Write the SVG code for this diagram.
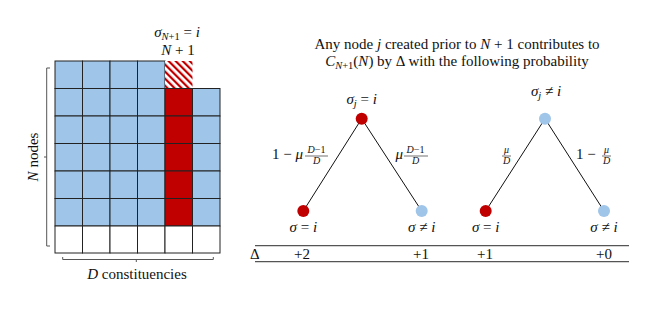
<svg xmlns="http://www.w3.org/2000/svg" width="664" height="309" viewBox="0 0 664 309">
<style>
text{font-family:"Liberation Serif","DejaVu Serif",serif;font-size:15px;fill:#111}
.it{font-style:italic}
.sm{font-size:10.5px}
.xs{font-size:10px}
.b{fill:#9fc5e8;stroke:#222;stroke-width:1}
.r{fill:#c00000;stroke:#222;stroke-width:1}
.w{fill:#fff;stroke:#222;stroke-width:1}
.br{fill:none;stroke:#555;stroke-width:1}
.edge{stroke:#111;stroke-width:1;fill:none}
.rule{stroke:#555;stroke-width:1.2}
.fb{stroke:#111;stroke-width:0.6}
.nr{fill:#c00000}
.nb{fill:#9fc5e8}
</style>
<defs>
<pattern id="hatch" patternUnits="userSpaceOnUse" width="5" height="5" patternTransform="rotate(-45)">
<rect width="5" height="5" fill="#fff"/>
<rect x="0" y="0" width="2.2" height="5" fill="#c00000"/>
</pattern>
</defs>
<g id="grid">
<rect class="b" x="55" y="61" width="27.5" height="27.5"/>
<rect class="b" x="82.5" y="61" width="27.5" height="27.5"/>
<rect class="b" x="110" y="61" width="27.5" height="27.5"/>
<rect class="b" x="137.5" y="61" width="27.5" height="27.5"/>
<rect x="165" y="61" width="27.5" height="27.5" fill="url(#hatch)" stroke="none"/>
<g>
<rect class="b" x="55" y="88.5" width="27.5" height="27.5"/><rect class="b" x="82.5" y="88.5" width="27.5" height="27.5"/><rect class="b" x="110" y="88.5" width="27.5" height="27.5"/><rect class="b" x="137.5" y="88.5" width="27.5" height="27.5"/><rect class="r" x="165" y="88.5" width="27.5" height="27.5"/><rect class="b" x="192.5" y="88.5" width="27.5" height="27.5"/>
<rect class="b" x="55" y="116" width="27.5" height="27.5"/><rect class="b" x="82.5" y="116" width="27.5" height="27.5"/><rect class="b" x="110" y="116" width="27.5" height="27.5"/><rect class="b" x="137.5" y="116" width="27.5" height="27.5"/><rect class="r" x="165" y="116" width="27.5" height="27.5"/><rect class="b" x="192.5" y="116" width="27.5" height="27.5"/>
<rect class="b" x="55" y="143.5" width="27.5" height="27.5"/><rect class="b" x="82.5" y="143.5" width="27.5" height="27.5"/><rect class="b" x="110" y="143.5" width="27.5" height="27.5"/><rect class="b" x="137.5" y="143.5" width="27.5" height="27.5"/><rect class="r" x="165" y="143.5" width="27.5" height="27.5"/><rect class="b" x="192.5" y="143.5" width="27.5" height="27.5"/>
<rect class="b" x="55" y="171" width="27.5" height="27.5"/><rect class="b" x="82.5" y="171" width="27.5" height="27.5"/><rect class="b" x="110" y="171" width="27.5" height="27.5"/><rect class="b" x="137.5" y="171" width="27.5" height="27.5"/><rect class="r" x="165" y="171" width="27.5" height="27.5"/><rect class="b" x="192.5" y="171" width="27.5" height="27.5"/>
<rect class="b" x="55" y="198.5" width="27.5" height="27.5"/><rect class="b" x="82.5" y="198.5" width="27.5" height="27.5"/><rect class="b" x="110" y="198.5" width="27.5" height="27.5"/><rect class="b" x="137.5" y="198.5" width="27.5" height="27.5"/><rect class="r" x="165" y="198.5" width="27.5" height="27.5"/><rect class="b" x="192.5" y="198.5" width="27.5" height="27.5"/>
</g>
<rect class="w" x="55" y="226" width="27.5" height="27"/><rect class="w" x="82.5" y="226" width="27.5" height="27"/><rect class="w" x="110" y="226" width="27.5" height="27"/><rect class="w" x="137.5" y="226" width="27.5" height="27"/><rect class="w" x="165" y="226" width="27.5" height="27"/><rect class="w" x="192.5" y="226" width="27.5" height="27"/>
<path class="br" d="M50 68 H46.7 V246 H50 M46.7 157 H44"/>
<path class="br" d="M62.7 257 V259.5 H213.3 V257 M136.3 259.5 V262"/>
<text x="177" y="37" text-anchor="middle"><tspan class="it">σ</tspan><tspan class="it sm" dy="3">N</tspan><tspan class="sm">+1</tspan><tspan dy="-3"> = </tspan><tspan class="it">i</tspan></text>
<text x="178" y="55" text-anchor="middle"><tspan class="it">N</tspan> + 1</text>
<text transform="translate(38 157) rotate(-90)" text-anchor="middle"><tspan class="it">N</tspan> nodes</text>
<text x="137" y="279" text-anchor="middle"><tspan class="it">D</tspan> constituencies</text>
</g>
<g id="title">
<text x="457" y="49" text-anchor="middle">Any node <tspan class="it">j</tspan> created prior to <tspan class="it">N</tspan> + 1 contributes to</text>
<text x="457" y="66" text-anchor="middle"><tspan class="it">C</tspan><tspan class="it sm" dy="3">N</tspan><tspan class="sm">+1</tspan><tspan dy="-3">(</tspan><tspan class="it">N</tspan>) by Δ with the following probability</text>
</g>
<g id="connectors">
<line class="edge" x1="361.7" y1="118.7" x2="303.3" y2="211"/>
<line class="edge" x1="361.7" y1="118.7" x2="421.7" y2="211"/>
<line class="edge" x1="545" y1="118.7" x2="485.7" y2="211"/>
<line class="edge" x1="545" y1="118.7" x2="604" y2="211"/>
</g>
<g id="edge-labels">
<text x="272" y="159"><tspan>1 − </tspan><tspan class="it">μ</tspan></text>
<text x="316.5" y="153" text-anchor="middle" class="xs"><tspan class="it">D</tspan>−1</text>
<line class="fb" x1="305" y1="156" x2="328" y2="156"/>
<text x="316.5" y="164" text-anchor="middle" class="xs it">D</text>
<text x="395.5" y="159" class="it">μ</text>
<text x="415.5" y="153" text-anchor="middle" class="xs"><tspan class="it">D</tspan>−1</text>
<line class="fb" x1="404" y1="156" x2="428" y2="156"/>
<text x="415.5" y="164" text-anchor="middle" class="xs it">D</text>
<text x="506.5" y="153" text-anchor="middle" class="xs it">μ</text>
<line class="fb" x1="502" y1="156" x2="511" y2="156"/>
<text x="506.5" y="164" text-anchor="middle" class="xs it">D</text>
<text x="576" y="159">1 − </text>
<text x="606.5" y="153" text-anchor="middle" class="xs it">μ</text>
<line class="fb" x1="602" y1="156" x2="611" y2="156"/>
<text x="606.5" y="164" text-anchor="middle" class="xs it">D</text>
</g>
<g id="n-top1">
<circle class="nr" cx="361.7" cy="118.7" r="6"/>
<text x="361.7" y="104" text-anchor="middle"><tspan class="it">σ</tspan><tspan class="it sm" dy="3">j</tspan><tspan dy="-3"> = </tspan><tspan class="it">i</tspan></text>
</g>
<g id="n-l1">
<circle class="nr" cx="303.3" cy="211" r="6"/>
<text x="303.3" y="232" text-anchor="middle"><tspan class="it">σ</tspan> = <tspan class="it">i</tspan></text>
</g>
<g id="n-r1">
<circle class="nb" cx="421.7" cy="211" r="6"/>
<text x="421.7" y="232" text-anchor="middle"><tspan class="it">σ</tspan> ≠ <tspan class="it">i</tspan></text>
</g>
<g id="n-top2">
<circle class="nb" cx="545" cy="118.7" r="6"/>
<text x="546" y="96" text-anchor="middle"><tspan class="it">σ</tspan><tspan class="it sm" dy="3">j</tspan><tspan dy="-3"> ≠ </tspan><tspan class="it">i</tspan></text>
</g>
<g id="n-l2">
<circle class="nr" cx="485.7" cy="211" r="6"/>
<text x="485.7" y="232" text-anchor="middle"><tspan class="it">σ</tspan> = <tspan class="it">i</tspan></text>
</g>
<g id="n-r2">
<circle class="nb" cx="604" cy="211" r="6"/>
<text x="604" y="232" text-anchor="middle"><tspan class="it">σ</tspan> ≠ <tspan class="it">i</tspan></text>
</g>
<g id="table">
<line class="rule" x1="255" y1="245.7" x2="629" y2="245.7"/>
<line class="rule" x1="255" y1="261.7" x2="629" y2="261.7"/>
<text x="250" y="259">Δ</text>
<text x="302" y="259" text-anchor="middle">+2</text>
<text x="421" y="259" text-anchor="middle">+1</text>
<text x="485" y="259" text-anchor="middle">+1</text>
<text x="604" y="259" text-anchor="middle">+0</text>
</g>
</svg>
